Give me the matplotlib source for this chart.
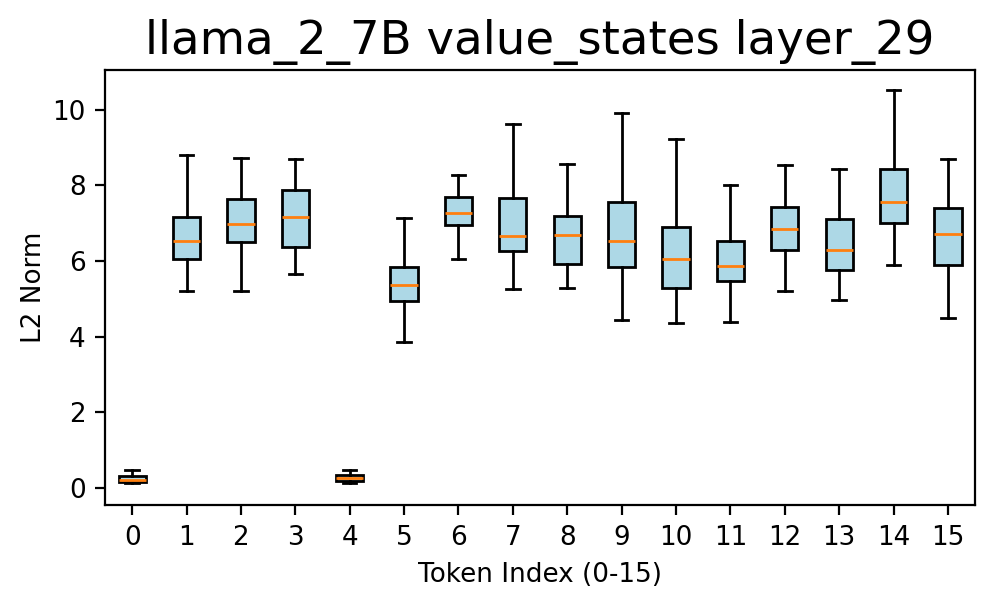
import matplotlib
matplotlib.use("Agg")
import matplotlib.pyplot as plt

tokens = list(range(16))
whislo = [0.13, 5.21, 5.20, 5.66, 0.14, 3.86, 6.05, 5.25, 5.28, 4.43, 4.36, 4.39, 5.20, 4.98, 5.89, 4.49]
q1 = [0.15, 6.04, 6.49, 6.37, 0.20, 4.95, 6.94, 6.26, 5.93, 5.85, 5.29, 5.48, 6.29, 5.77, 7.00, 5.90]
med = [0.22, 6.54, 6.98, 7.16, 0.26, 5.36, 7.27, 6.65, 6.69, 6.52, 6.06, 5.87, 6.84, 6.30, 7.57, 6.71]
q3 = [0.31, 7.17, 7.63, 7.88, 0.34, 5.85, 7.70, 7.67, 7.18, 7.56, 6.90, 6.53, 7.43, 7.11, 8.43, 7.41]
whishi = [0.48, 8.81, 8.73, 8.69, 0.48, 7.14, 8.27, 9.63, 8.57, 9.92, 9.23, 8.00, 8.54, 8.43, 10.52, 8.70]

plt.rcParams["font.size"] = 9.45

stats = []
for i in tokens:
    stats.append(dict(whislo=whislo[i], q1=q1[i], med=med[i], q3=q3[i],
                      whishi=whishi[i], fliers=[], label=str(i)))

fig = plt.figure(figsize=(4.975, 3), dpi=200)
ax = fig.add_subplot(111)
fig.subplots_adjust(left=0.1055, right=0.98, top=0.883, bottom=0.158)
bp = ax.bxp(stats, positions=tokens, widths=0.5, patch_artist=True, showfliers=False)
for b in bp["boxes"]:
    b.set_facecolor("lightblue")
ax.set_ylim(-0.45, 11.04)
ax.set_title("llama_2_7B value_states layer_29", fontsize=16.8)
ax.set_xlabel("Token Index (0-15)")
ax.set_ylabel("L2 Norm", labelpad=2)
fig.savefig("out.png")
